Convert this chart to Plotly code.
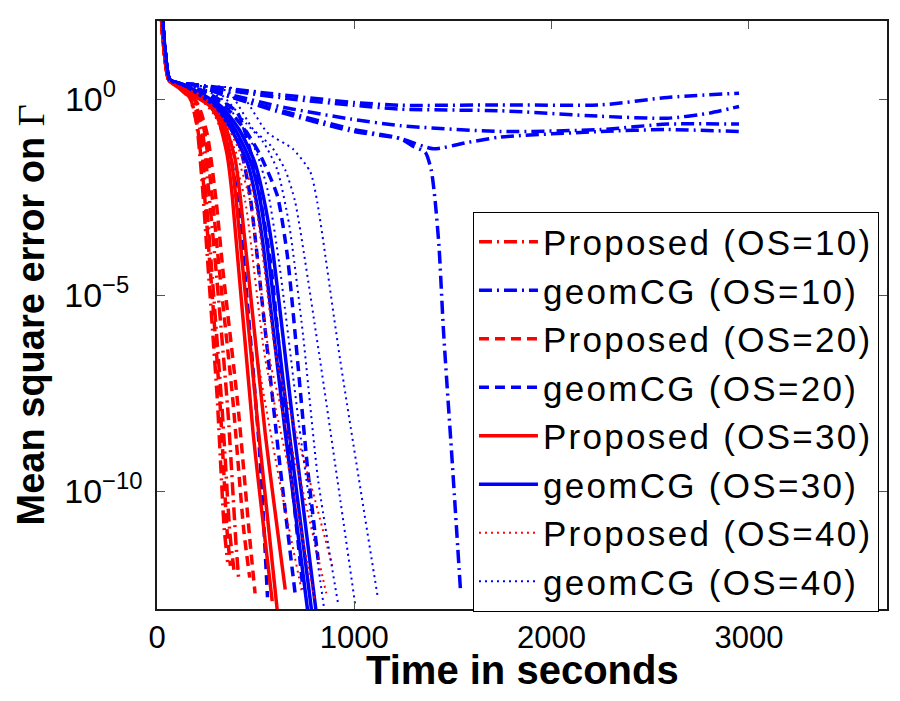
import plotly.graph_objects as go


###################
#### DATA #########
###################
# time in seconds, and log10 of the mean square error
# Proposed (OS=10), red dash-dot
t_prop_os10 = [
    [15, 35, 60, 110, 165, 200, 230, 255, 305, 340, 358],
    [15, 35, 60, 115, 180, 215, 245, 275, 330, 370, 390],
    [15, 35, 60, 120, 190, 230, 265, 300, 360, 400, 415],
]
e_prop_os10 = [
    [2.6, 1.3, 0.5, 0.3, 0.05, -0.6, -2.2, -4.0, -7.6, -10.9, -11.8],
    [2.6, 1.3, 0.5, 0.3, 0.0, -0.7, -2.3, -4.2, -7.9, -11.1, -12.0],
    [2.6, 1.3, 0.5, 0.3, -0.05, -0.8, -2.5, -4.4, -8.0, -11.3, -12.3],
]

# geomCG (OS=10), blue dash-dot
t_geom_os10 = [
    [20, 40, 65, 120, 183, 523, 1000, 1234, 1741, 2249, 2587, 2950],
    [20, 40, 65, 120, 183, 400, 700, 1000, 1234, 1741, 2249, 2587, 2800, 2950],
    [20, 40, 65, 120, 183, 350, 640, 980, 1234, 1741, 2249, 2587, 2950],
    [20, 40, 65, 120, 183, 350, 640, 980, 1234, 1400, 1572, 1741, 2249, 2587, 2950],
    [20, 40, 65, 120, 183, 350, 640, 980, 1234, 1300, 1360, 1390, 1410, 1430, 1452, 1497, 1538],
]
e_geom_os10 = [
    [2.6, 1.3, 0.5, 0.4, 0.38, 0.18, -0.08, -0.15, -0.14, -0.14, 0.05, 0.16],
    [2.6, 1.3, 0.5, 0.4, 0.38, 0.2, 0.0, -0.15, -0.25, -0.29, -0.43, -0.48, -0.35, -0.18],
    [2.6, 1.3, 0.5, 0.4, 0.38, 0.15, -0.2, -0.5, -0.67, -0.82, -0.77, -0.63, -0.63],
    [2.6, 1.3, 0.5, 0.4, 0.38, 0.1, -0.35, -0.8, -1.0, -1.26, -1.1, -0.96, -0.82, -0.77, -0.82],
    [2.6, 1.3, 0.5, 0.4, 0.38, 0.1, -0.3, -0.75, -1.0, -1.2, -1.35, -1.8, -2.6, -3.8, -5.9, -9.3, -12.5],
]

# Proposed (OS=20), red dashed
t_prop_os20 = [
    [15, 35, 60, 110, 170, 205, 240, 268, 320, 355, 372],
    [15, 35, 60, 120, 195, 240, 280, 315, 385, 440, 470],
    [15, 35, 60, 125, 205, 255, 300, 335, 410, 470, 497],
]
e_prop_os20 = [
    [2.6, 1.3, 0.5, 0.3, 0.0, -0.7, -2.4, -4.2, -7.8, -11.0, -11.9],
    [2.6, 1.3, 0.5, 0.3, -0.05, -0.8, -2.5, -4.3, -7.7, -11.0, -12.2],
    [2.6, 1.3, 0.5, 0.3, -0.1, -0.9, -2.6, -4.4, -7.8, -11.2, -12.6],
]

# geomCG (OS=20), blue dashed
t_geom_os20 = [
    [20, 40, 65, 120, 220, 300, 370, 410, 520, 560],
    [20, 40, 65, 120, 240, 330, 420, 470, 540, 620, 700],
    [20, 40, 65, 120, 250, 350, 450, 523, 609, 660, 761, 817],
    [20, 40, 65, 120, 240, 406, 487, 574, 660, 740],
]
e_geom_os20 = [
    [2.6, 1.3, 0.5, 0.4, 0.1, -0.3, -1.4, -2.6, -9.0, -12.7],
    [2.6, 1.3, 0.5, 0.4, 0.1, -0.3, -1.2, -2.4, -5.5, -9.2, -12.6],
    [2.6, 1.3, 0.5, 0.4, 0.15, -0.2, -0.8, -1.42, -2.44, -3.96, -9.3, -11.75],
    [2.6, 1.3, 0.5, 0.4, 0.2, -0.33, -1.6, -4.1, -8.6, -12.5],
]

# Proposed (OS=30), red solid
t_prop_os30 = [
    [15, 35, 60, 110, 200, 265, 310, 355, 381, 487, 584],
    [15, 35, 60, 115, 210, 275, 325, 375, 400, 515, 615],
    [15, 35, 60, 120, 220, 285, 340, 395, 421, 548, 650],
]
e_prop_os30 = [
    [2.6, 1.3, 0.5, 0.3, 0.05, -0.15, -0.5, -1.4, -2.44, -8.5, -12.8],
    [2.6, 1.3, 0.5, 0.3, 0.05, -0.2, -0.6, -1.5, -2.5, -8.5, -13.3],
    [2.6, 1.3, 0.5, 0.3, 0.05, -0.2, -0.6, -1.5, -2.44, -8.5, -12.5],
]

# geomCG (OS=30), blue solid
t_geom_os30 = [
    [20, 40, 65, 120, 220, 300, 380, 457, 500, 540, 650, 770],
    [20, 40, 65, 120, 230, 315, 400, 475, 520, 560, 670, 790],
    [20, 40, 65, 120, 240, 330, 420, 495, 540, 585, 695, 812],
]
e_geom_os30 = [
    [2.6, 1.3, 0.5, 0.4, 0.1, -0.2, -0.8, -1.6, -2.5, -3.8, -8.5, -13.3],
    [2.6, 1.3, 0.5, 0.4, 0.1, -0.2, -0.8, -1.6, -2.5, -3.8, -8.5, -13.3],
    [2.6, 1.3, 0.5, 0.4, 0.1, -0.2, -0.8, -1.6, -2.5, -3.8, -8.5, -13.3],
]

# Proposed (OS=40), red dotted
t_prop_os40 = [
    [15, 35, 60, 110, 200, 290, 360, 421, 507, 620, 736],
    [15, 35, 60, 115, 210, 300, 380, 447, 548, 680, 800],
    [15, 35, 60, 120, 220, 320, 400, 472, 574, 730, 858],
    [15, 35, 60, 125, 230, 335, 425, 497, 609, 800, 893],
]
e_prop_os40 = [
    [2.6, 1.3, 0.5, 0.3, 0.1, -0.4, -1.3, -2.6, -6.5, -9.7, -12.6],
    [2.6, 1.3, 0.5, 0.3, 0.1, -0.4, -1.3, -2.6, -6.6, -9.7, -12.8],
    [2.6, 1.3, 0.5, 0.3, 0.1, -0.45, -1.35, -2.6, -6.7, -9.8, -12.6],
    [2.6, 1.3, 0.5, 0.3, 0.1, -0.5, -1.4, -2.6, -6.7, -10.2, -12.0],
]

# geomCG (OS=40), blue dotted
t_geom_os40 = [
    [20, 40, 65, 120, 200, 406, 558, 690, 777, 812, 929, 1117],
    [20, 40, 65, 120, 200, 360, 487, 580, 650, 700, 827, 1005],
    [20, 40, 65, 120, 200, 330, 450, 540, 610, 670, 740, 817, 919],
    [20, 40, 65, 120, 200, 320, 420, 500, 560, 620, 720, 850],
]
e_geom_os40 = [
    [2.6, 1.3, 0.5, 0.4, 0.35, 0.25, -0.84, -1.27, -1.85, -2.61, -6.67, -12.64],
    [2.6, 1.3, 0.5, 0.4, 0.35, 0.2, -0.76, -1.2, -1.8, -2.61, -6.67, -12.9],
    [2.6, 1.3, 0.5, 0.4, 0.3, 0.1, -0.6, -1.1, -1.8, -3.2, -6.0, -9.72, -12.9],
    [2.6, 1.3, 0.5, 0.4, 0.3, 0.05, -0.6, -1.3, -2.3, -4.2, -8.3, -13.1],
]

x_ticks = [0, 1000, 2000, 3000]
y_ticks = [1e-10, 1e-5, 1]
# figure spaces pad the short exponents so the "10" bases line up, as in the reference
y_tick_labels = ["10<sup>−10</sup>", "10<sup>−5\u2007</sup>", "10<sup>0\u2007\u2007</sup>"]


###################
#### STYLES #######
###################
RED = "#ff0000"
BLUE = "#0000ff"
DASHDOT = "13px,5px,2px,5px"
DASHED = "10px,6px"
DOTTED = "2px,4px"
LEGEND_SPAN = "<span style='letter-spacing:2.3px'>{}</span>"

series = [
    ("Proposed (OS=10)", t_prop_os10, e_prop_os10, RED, DASHDOT, 3.5),
    ("geomCG (OS=10)", t_geom_os10, e_geom_os10, BLUE, DASHDOT, 3.5),
    ("Proposed (OS=20)", t_prop_os20, e_prop_os20, RED, DASHED, 3.5),
    ("geomCG (OS=20)", t_geom_os20, e_geom_os20, BLUE, DASHED, 3.5),
    ("Proposed (OS=30)", t_prop_os30, e_prop_os30, RED, "solid", 3.5),
    ("geomCG (OS=30)", t_geom_os30, e_geom_os30, BLUE, "solid", 3.5),
    ("Proposed (OS=40)", t_prop_os40, e_prop_os40, RED, DOTTED, 2),
    ("geomCG (OS=40)", t_geom_os40, e_geom_os40, BLUE, DOTTED, 2),
]


###################
#### FIGURE #######
###################
fig = go.Figure()

for name, times, exps, color, dash, width in series:
    for i, (t, e) in enumerate(zip(times, exps)):
        fig.add_trace(go.Scatter(
            x=t,
            y=[10 ** v for v in e],
            mode="lines",
            name=LEGEND_SPAN.format(name),
            showlegend=(i == 0),
            line=dict(color=color, dash=dash, width=width, shape="spline", smoothing=0.6),
        ))

axis_style = dict(
    showline=True,
    linecolor="#1a1a1a",
    linewidth=1.5,
    mirror="ticks",
    ticks="inside",
    ticklen=8,
    tickwidth=1.2,
    tickcolor="#555555",
    showgrid=False,
    zeroline=False,
)

fig.update_xaxes(
    range=[0, 3700],
    tickvals=x_ticks,
    tickfont=dict(size=31, color="black"),
    **axis_style
)
fig.update_yaxes(
    type="log",
    range=[-13, 2],
    tickvals=y_ticks,
    ticktext=y_tick_labels,
    tickfont=dict(size=34, color="black"),
    ticklabelstandoff=6,
    **axis_style
)

# axis titles
fig.add_annotation(
    text="<b>Time in seconds</b>",
    xref="paper", yref="paper", x=0.5, y=-0.103,
    xanchor="center", yanchor="middle",
    showarrow=False, font=dict(size=40),
)
fig.add_annotation(
    text="<b>Mean square error on</b> <span style='font-family:Liberation Serif'>Γ</span>",
    xref="paper", yref="paper", x=-0.172, y=0.5,
    xanchor="center", yanchor="middle", textangle=-90,
    showarrow=False, font=dict(size=38),
)

# the page body keeps its default 8 px margin, so the figure is 8 px smaller
# than the window and the plot margins are shifted to land on the reference box
fig.update_layout(
    width=892,
    height=693,
    margin=dict(l=149, r=13, t=11, b=92),
    plot_bgcolor="white",
    paper_bgcolor="white",
    font=dict(family="Liberation Sans, Arial, sans-serif", color="black"),
    legend=dict(
        x=0.989, xanchor="right",
        y=0.676, yanchor="top",
        bgcolor="white",
        bordercolor="black",
        borderwidth=1,
        font=dict(size=35),
        itemwidth=59,
    ),
)

fig.write_html("out.html")
